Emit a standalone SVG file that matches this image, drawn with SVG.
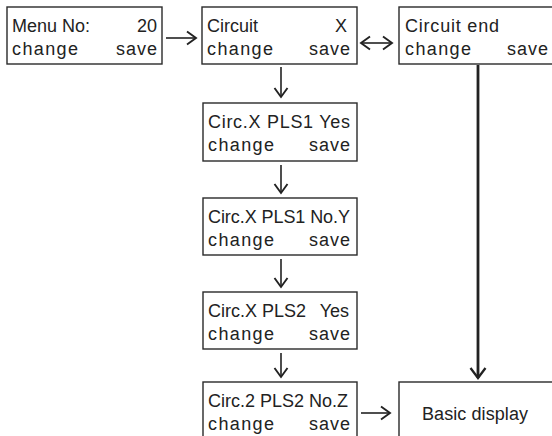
<svg xmlns="http://www.w3.org/2000/svg" width="552" height="436" viewBox="0 0 552 436">
<style>
.box{fill:#fff;stroke:#2a2a2a;stroke-width:1.4}
.t{font-family:"Liberation Sans",Arial,sans-serif;font-size:18px;fill:#222}
.r{text-anchor:end}
.ln{stroke:#222;stroke-width:1.6;fill:none}
.thick{stroke:#222;stroke-width:2.8;fill:none}
</style>
<defs>
<marker id="ah" markerUnits="userSpaceOnUse" markerWidth="16" markerHeight="16" viewBox="0 0 16 16" refX="13" refY="8" orient="auto-start-reverse">
<path d="M4,1.5 L13,8 L4,14.5" fill="none" stroke="#222" stroke-width="1.9"/>
</marker>
<marker id="ahb" markerUnits="userSpaceOnUse" markerWidth="20" markerHeight="20" viewBox="0 0 20 20" refX="17" refY="10" orient="auto">
<path d="M7,2.5 L17,10 L7,17.5" fill="none" stroke="#222" stroke-width="2.3"/>
</marker>
</defs>

<g id="connectors">
<line class="ln" x1="166" y1="38" x2="196" y2="38" marker-end="url(#ah)"/>
<line class="ln" x1="361" y1="43" x2="392" y2="43" marker-start="url(#ah)" marker-end="url(#ah)"/>
<line class="ln" x1="281" y1="67" x2="281" y2="97" marker-end="url(#ah)"/>
<line class="ln" x1="281" y1="165" x2="281" y2="193" marker-end="url(#ah)"/>
<line class="ln" x1="281" y1="259" x2="281" y2="287" marker-end="url(#ah)"/>
<line class="ln" x1="281" y1="353" x2="281" y2="377" marker-end="url(#ah)"/>
<line class="thick" x1="478" y1="65" x2="478" y2="378" marker-end="url(#ahb)"/>
<line class="ln" x1="361" y1="413" x2="390" y2="413" marker-end="url(#ah)"/>
</g>

<g id="menu">
<rect class="box" x="7" y="7" width="155" height="57"/>
<text class="t" x="12" y="32">Menu No:</text>
<text class="t r" x="157" y="32">20</text>
<text class="t" x="12" y="55" textLength="66" lengthAdjust="spacing">change</text>
<text class="t r" x="157" y="55" textLength="41" lengthAdjust="spacing">save</text>
</g>

<g id="circuit">
<rect class="box" x="202" y="7" width="155" height="57"/>
<text class="t" x="207" y="32">Circuit</text>
<text class="t r" x="347" y="32">X</text>
<text class="t" x="207" y="55" textLength="66" lengthAdjust="spacing">change</text>
<text class="t r" x="350" y="55" textLength="41" lengthAdjust="spacing">save</text>
</g>

<g id="circuit-end">
<rect class="box" x="399" y="7" width="170" height="57"/>
<text class="t" x="405" y="32" textLength="94" lengthAdjust="spacing">Circuit end</text>
<text class="t" x="405" y="55" textLength="66" lengthAdjust="spacing">change</text>
<text class="t r" x="548" y="55" textLength="41" lengthAdjust="spacing">save</text>
</g>

<g id="pls1-yes">
<rect class="box" x="203" y="103" width="154" height="58"/>
<text class="t" x="208" y="128" textLength="142" lengthAdjust="spacing">Circ.X PLS1 Yes</text>
<text class="t" x="208" y="151" textLength="66" lengthAdjust="spacing">change</text>
<text class="t r" x="350" y="151" textLength="41" lengthAdjust="spacing">save</text>
</g>

<g id="pls1-no">
<rect class="box" x="203" y="198" width="154" height="57"/>
<text class="t" x="208" y="223" textLength="142" lengthAdjust="spacing">Circ.X PLS1 No.Y</text>
<text class="t" x="208" y="246" textLength="66" lengthAdjust="spacing">change</text>
<text class="t r" x="350" y="246" textLength="41" lengthAdjust="spacing">save</text>
</g>

<g id="pls2-yes">
<rect class="box" x="203" y="292" width="154" height="57"/>
<text class="t" x="208" y="317">Circ.X PLS2</text>
<text class="t r" x="349" y="317">Yes</text>
<text class="t" x="208" y="340" textLength="66" lengthAdjust="spacing">change</text>
<text class="t r" x="350" y="340" textLength="41" lengthAdjust="spacing">save</text>
</g>

<g id="pls2-no">
<rect class="box" x="203" y="382" width="154" height="70"/>
<text class="t" x="208" y="407" textLength="140" lengthAdjust="spacing">Circ.2 PLS2 No.Z</text>
<text class="t" x="208" y="430" textLength="66" lengthAdjust="spacing">change</text>
<text class="t r" x="350" y="430" textLength="41" lengthAdjust="spacing">save</text>
</g>

<g id="basic-display">
<rect class="box" x="399" y="382" width="170" height="70"/>
<text class="t" x="422" y="420" font-size="17" textLength="106" lengthAdjust="spacing">Basic display</text>
</g>
</svg>
